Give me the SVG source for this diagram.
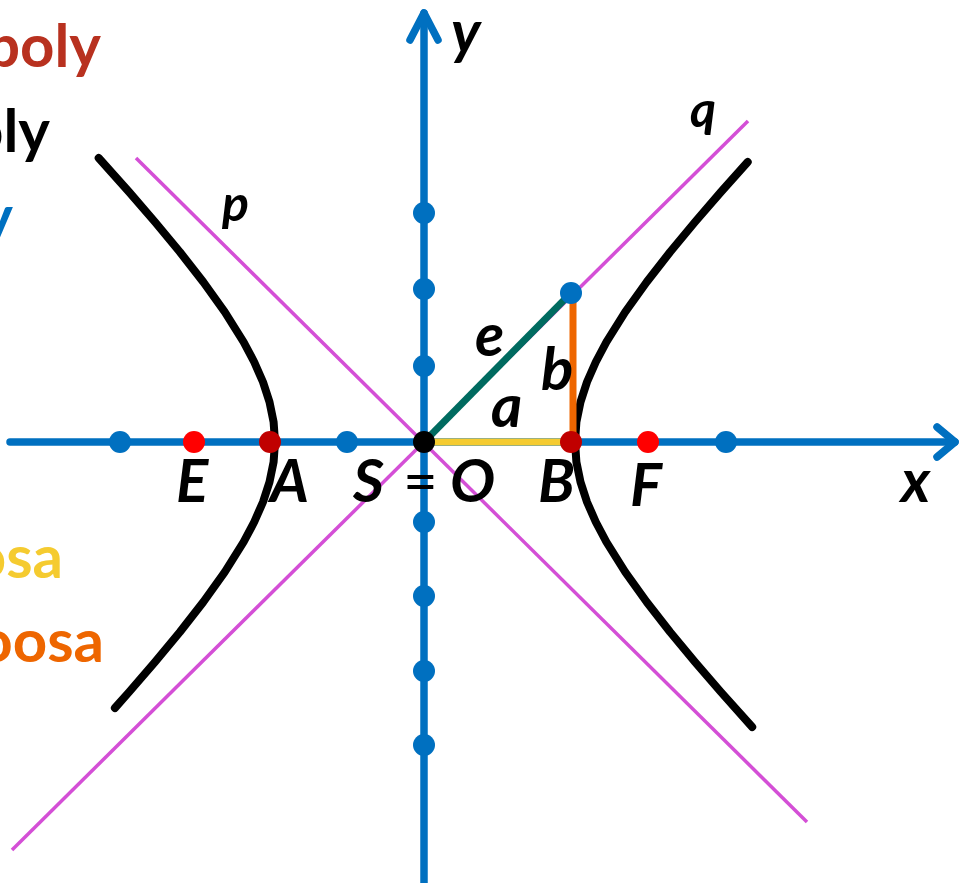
<svg xmlns="http://www.w3.org/2000/svg" width="961" height="883" viewBox="0 0 961 883">
<style>
.ax{stroke:#0070C0;stroke-width:7.5;fill:none;stroke-linecap:round;stroke-linejoin:round}
.asym{stroke:#D44FD6;stroke-width:3.5;fill:none}
.hyp{stroke:#000;stroke-width:8;fill:none;stroke-linecap:round;stroke-linejoin:round}
.seg{stroke-width:7;fill:none}
.lbl{font-family:Lato,"Liberation Sans",sans-serif;font-weight:bold;font-style:italic;font-size:60px;fill:#000}
.up{font-style:normal;font-weight:normal}
.sm{font-size:50px}
.leg{font-family:Lato,"Liberation Sans",sans-serif;font-weight:bold;font-size:60px;text-anchor:end}
.tick{fill:#0070C0}
.red{fill:#FF0000}
.dred{fill:#C00000}
</style>
<rect width="961" height="883" fill="#fff"/>
<g id="legend">
<text class="leg" x="101" y="67" fill="#B8311F">boly</text>
<text class="leg" x="50" y="152" fill="#000">oly</text>
<text class="leg" x="13" y="238" fill="#0070C0">y</text>
<text class="leg" x="63" y="578" fill="#F5CB30">osa</text>
<text class="leg" x="104" y="662" fill="#EE6600">oosa</text>
</g>
<g id="connectors">
<line id="x-axis" class="ax" x1="10" y1="442" x2="955" y2="442"/>
<polyline class="ax" points="937,427 955,442 937,457"/>
<line id="y-axis" class="ax" x1="424" y1="883" x2="424" y2="13"/>
<polyline class="ax" points="410,40 424,13 438,40"/>
<line id="asymptote-p" class="asym" x1="136" y1="158" x2="807" y2="822"/>
<line id="asymptote-q" class="asym" x1="12" y1="850" x2="748" y2="121"/>
<polyline id="branch-left" class="hyp" points="98.7,158 129.1,192 155,222 179.9,252 203.3,282 224.8,312 243.6,342 254.2,362 263,382 269.5,402 273.6,422 275,442 273.6,462 269.5,482 263,502 254.2,522 243.6,542 224.8,572 203.3,602 179.9,632 155,662 129.1,692 114.9,708"/>
<polyline id="branch-right" class="hyp" points="747.7,162 720.9,192 695,222 670.1,252 646.7,282 625.2,312 606.4,342 595.8,362 587,382 580.5,402 576.4,422 575,442 576.4,462 580.5,482 587,502 595.8,522 606.4,542 625.2,572 646.7,602 670.1,632 695,662 720.9,692 752.2,727"/>
<line id="semi-major-a" class="seg" stroke="#F5CB30" x1="424" y1="442" x2="571" y2="442"/>
<line id="semi-minor-b" class="seg" stroke="#EE6600" x1="573" y1="293" x2="573" y2="442"/>
<line id="eccentricity-e" class="seg" stroke="#006B60" x1="424" y1="442" x2="571" y2="293"/>
</g>
<g id="ticks">
<circle class="tick" cx="120" cy="442" r="11"/>
<circle class="tick" cx="347" cy="442" r="11"/>
<circle class="tick" cx="726" cy="442" r="11"/>
<circle class="tick" cx="424" cy="213" r="11"/>
<circle class="tick" cx="424" cy="289" r="11"/>
<circle class="tick" cx="424" cy="366" r="11"/>
<circle class="tick" cx="424" cy="522" r="11"/>
<circle class="tick" cx="424" cy="596" r="11"/>
<circle class="tick" cx="424" cy="671" r="11"/>
<circle class="tick" cx="424" cy="745" r="11"/>
</g>
<g id="point-top"><circle class="tick" cx="571" cy="293" r="11"/></g>
<g id="node-E"><circle class="red" cx="194" cy="442" r="11"/><text class="lbl" x="176" y="502">E</text></g>
<g id="node-A"><circle class="dred" cx="270" cy="442" r="11"/><text class="lbl" x="270" y="502">A</text></g>
<g id="node-O"><circle cx="424" cy="442" r="11" fill="#000"/><text class="lbl" x="353" y="502">S</text><text class="lbl up" x="403" y="502">=</text><text class="lbl" x="450" y="502">O</text></g>
<g id="node-B"><circle class="dred" cx="571" cy="442" r="11"/><text class="lbl" x="538" y="502">B</text></g>
<g id="node-F"><circle class="red" cx="648" cy="442" r="11"/><text class="lbl" x="630" y="506">F</text></g>
<g id="labels">
<text class="lbl" x="901" y="502">x</text>
<text class="lbl" x="451" y="53">y</text>
<text class="lbl sm" x="222" y="221">p</text>
<text class="lbl sm" x="690" y="127">q</text>
<text class="lbl" x="475" y="356">e</text>
<text class="lbl" x="541" y="390">b</text>
<text class="lbl" x="491" y="427">a</text>
</g>
</svg>
